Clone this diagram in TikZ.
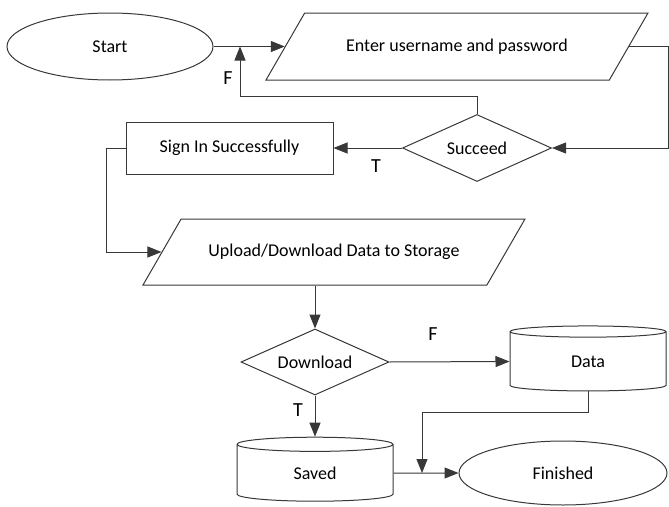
\documentclass[tikz,border=0pt]{standalone}
\usepackage{fontspec}
\setmainfont{Carlito}
\usetikzlibrary{shapes.geometric,arrows.meta,calc}
\definecolor{linegray}{HTML}{383838}
\tikzset{
    flow-text/.style = {font=\fontsize{18}{21}\selectfont, text=black},
    terminal-box/.style = {flow-text, draw=linegray, line width=1pt, ellipse, inner sep=0pt},
    io-box/.style = {flow-text, draw=linegray, line width=1pt, trapezium, trapezium left angle=60, trapezium right angle=120, trapezium stretches body=true, text height=13pt, text depth=4pt, inner xsep=0pt, inner ysep=25pt, minimum width=382pt},
    process-box/.style = {flow-text, draw=linegray, line width=1pt, rectangle, minimum width=207pt, minimum height=52pt},
    decision-box/.style = {flow-text, draw=linegray, line width=1pt, diamond, aspect=2.2, inner sep=0pt, minimum width=149pt, minimum height=67pt},
    store-box/.style = {flow-text, draw=linegray, line width=1pt, cylinder, shape border rotate=90, aspect=0.33, inner sep=0pt, minimum width=156pt, minimum height=65pt},
    flow-arrow/.style = {draw=linegray, line width=1pt, -{Triangle[length=14pt,width=11pt]}},
    branch-label/.style = {font=\fontsize{20}{24}\selectfont, text=black},
}

\begin{document}
\begin{tikzpicture}[x=1pt, y=-1pt]
\useasboundingbox (0,0) rectangle (669,506);
\node [terminal-box, minimum width=206pt, minimum height=67pt] (start) at (110,46.5) {Start};
\node [io-box] (enter) at (457,46.5) {Enter username and password};
\node [decision-box] (succeed) at (477,148) {Succeed};
\node [process-box] (signin) at (229.5,148) {Sign In Successfully};
\node [io-box, inner ysep=24.5pt] (upload) at (334,252) {Upload/Download Data to Storage};
\node [decision-box, minimum width=148pt, minimum height=66pt] (download) at (315,362) {Download};
\node [store-box] (data) at (588,361.5) {Data};
\node [store-box, minimum height=64pt] (saved) at (315,473) {Saved};
\node [terminal-box, minimum width=208pt, minimum height=64pt] (finished) at (563,473) {Finished};
\coordinate (enter-in) at ($(enter.top left corner)!0.5!(enter.bottom left corner)$);
\coordinate (enter-out) at ($(enter.top right corner)!0.5!(enter.bottom right corner)$);
\coordinate (upload-in) at ($(upload.top left corner)!0.5!(upload.bottom left corner)$);
\coordinate (retry) at (240,46.5);
\coordinate (merge) at (422,473);

\draw [flow-arrow] (start) -- (enter-in);
\draw [flow-arrow] (enter-out) -- (668,46.5) |- (succeed.east);
\draw [flow-arrow] (succeed.north) -- ++(0,-18) -| (retry);
\node [branch-label] (f-retry) at (228,78) {F};
\draw [flow-arrow] (succeed.west) -- (signin.east);
\node [branch-label] (t-signin) at (376,166) {T};
\draw [flow-arrow] (signin.west) -- ++(-19,0) |- (upload-in);
\draw [flow-arrow] (download.north |- upload.south) -- (download.north);
\draw [flow-arrow] (download.east) -- (data.west);
\node [branch-label] (f-data) at (433,334) {F};
\draw [flow-arrow] (download.south) -- (saved.north);
\node [branch-label] (t-saved) at (298,410) {T};
\draw [flow-arrow] (saved.east) -- (finished.west);
\draw [flow-arrow] (data.south) -- ++(0,21) -| (merge);
\end{tikzpicture}
\end{document}
